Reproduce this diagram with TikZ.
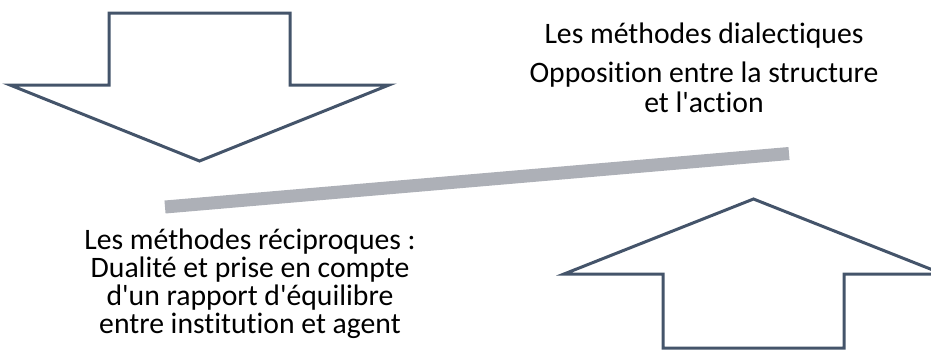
\documentclass[tikz,border=0pt]{standalone}
\usepackage{fontspec}
\setmainfont{Carlito}[Ligatures=NoCommon]
\usepackage{tikz}
\usetikzlibrary{calc}

\definecolor{slate}{HTML}{44546A}
\definecolor{bargray}{HTML}{ADB0B7}

\begin{document}
\begin{tikzpicture}[
	bigarrow/.style={draw=slate,line width=0.06cm,miter limit=10},
	bar/.style={bargray,line width=0.26cm},
	txt/.style={inner sep=0pt,align=center,anchor=base}
	]
	\useasboundingbox (0,0) rectangle (18.62,7);
	
	%down arrow
	\draw[bigarrow] (2.18,6.74)--(5.80,6.74)--(5.80,5.30)--(7.78,5.30)--(3.99,3.78)--(0.20,5.30)--(2.18,5.30)--cycle;
	
	%up arrow
	\draw[bigarrow] (13.26,0.04)--(16.88,0.04)--(16.88,1.52)--(18.86,1.52)--(15.07,3.02)--(11.28,1.52)--(13.26,1.52)--cycle;
	
	%grey bar
	\coordinate (barleft) at (3.30,2.86);
	\coordinate (barright) at (15.78,3.93);
	\draw[bar] (barleft)--(barright);
	
	%labels (anchored at the baseline of the last line)
	\node[txt,font=\fontsize{16.9pt}{17pt}\selectfont] (dialect) at (14.08,6.14) {Les méthodes dialectiques};
	\node[txt,font=\fontsize{16.9pt}{17pt}\selectfont] (opposition) at (14.08,4.76) {Opposition entre la structure\\et l\textquotesingle action};
	\node[txt,font=\fontsize{16.9pt}{15.9pt}\selectfont] (reciproque) at (5.00,0.34) {Les méthodes réciproques :\\Dualité et prise en compte\\d\textquotesingle un rapport d\textquotesingle équilibre\\entre institution et agent};
	
	%\draw[help lines] (0,0) grid (18,7);
\end{tikzpicture}
\end{document}
